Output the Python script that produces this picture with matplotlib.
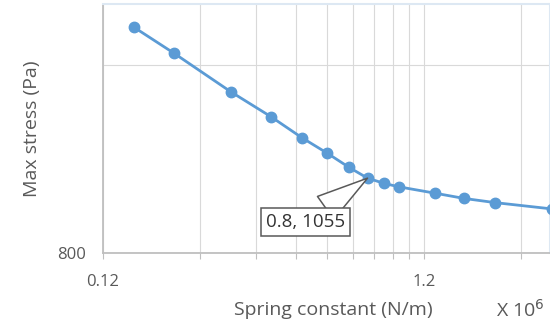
import numpy as np
import matplotlib as mpl
mpl.use('Agg')
import matplotlib.pyplot as plt
from matplotlib.ticker import FixedLocator, FuncFormatter, NullFormatter

plt.rcParams['font.family'] = ['Open Sans', 'DejaVu Sans']

# spring constant (x 10^6 N/m) and max stress (Pa)
spring_k = [0.15, 0.2, 0.3, 0.4, 0.5, 0.6, 0.7, 0.8, 0.9, 1.0, 1.3, 1.6, 2.0, 3.0]
max_stress = [1838, 1670, 1450, 1323, 1224, 1156, 1098, 1055, 1035, 1022, 998, 979, 964, 942]

x_major = [0.12, 1.2, 12]
y_major = [800, 8000]
callout_x, callout_y = 0.8, 1055

blue = '#5b9bd5'
grid_c = '#d9d9d9'
axis_c = '#bfbfbf'
text_c = '#595959'

fig = plt.figure(figsize=(5.5, 3.28), dpi=100)
ax = fig.add_axes([103/550, 1 - 253.3/328, 447/550, 249.3/328])

ax.plot(spring_k, max_stress, color=blue, lw=2.0, marker='o', ms=7.5, zorder=3)

ax.set_xscale('log')
ax.set_yscale('log')
ax.set_xlim(0.12, 2.96)
ax.set_ylim(800, 2003)

x_minor = [m * k for m in x_major for k in range(2, 10)]
y_minor = [m * k for m in y_major for k in range(2, 10)]
ax.xaxis.set_major_locator(FixedLocator(x_major))
ax.xaxis.set_minor_locator(FixedLocator(x_minor))
ax.yaxis.set_major_locator(FixedLocator(y_major))
ax.yaxis.set_minor_locator(FixedLocator(y_minor))
ax.xaxis.set_major_formatter(FuncFormatter(lambda v, p: '%g' % v))
ax.yaxis.set_major_formatter(FuncFormatter(lambda v, p: '%g' % v))
ax.xaxis.set_minor_formatter(NullFormatter())
ax.yaxis.set_minor_formatter(NullFormatter())

ax.grid(True, which='both', color=grid_c, lw=0.8)
ax.set_axisbelow(True)

ax.tick_params(axis='x', which='both', direction='out', length=4, width=0.8,
               color=axis_c, labelcolor=text_c, labelsize=12, pad=11)
ax.tick_params(axis='y', which='both', length=0, labelcolor=text_c, labelsize=12, pad=12)

for side in ['left', 'bottom']:
    ax.spines[side].set_color(axis_c)
    ax.spines[side].set_linewidth(1.3)
ax.spines['top'].set_color('#dde8f3')
ax.spines['right'].set_color('#dde8f3')
ax.spines['top'].set_linewidth(1.5)
ax.spines['right'].set_linewidth(1.5)

ax.set_ylabel('Max stress (Pa)', color=text_c, fontsize=14, labelpad=12)
fig.text(333/550, 1 - 310/328, 'Spring constant (N/m)', color=text_c,
         fontsize=14, ha='center', va='center')
fig.text(520/550, 1 - 310/328, r'X 10$^6$', color=text_c,
         fontsize=14, ha='center', va='center')

ax.annotate('%g, %d' % (callout_x, callout_y), xy=(callout_x, callout_y),
            xytext=(-62, -44), textcoords='offset pixels', ha='center', va='center',
            fontsize=13.5, color='#333333',
            bbox=dict(boxstyle='square,pad=0.25', fc='white', ec=text_c, lw=1.1),
            arrowprops=dict(arrowstyle='wedge,tail_width=1.5', fc='white', ec=text_c,
                            lw=1.1, shrinkA=0, shrinkB=0),
            zorder=4)

fig.savefig('out.png', dpi=100)
